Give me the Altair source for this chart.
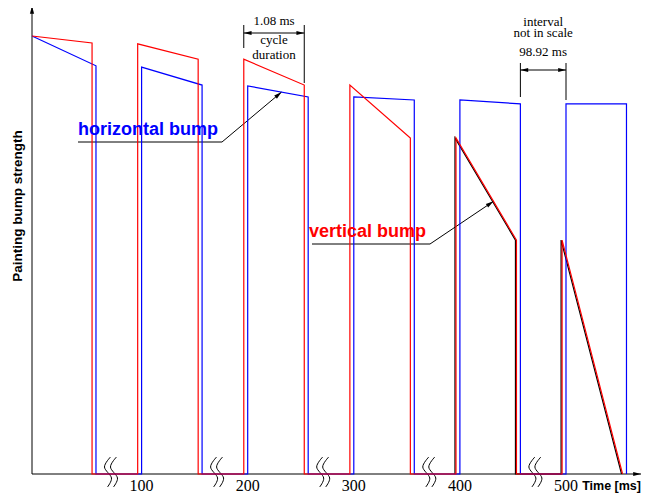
import math
import altair as alt
import pandas as pd

# ---------------- values ----------------
cycle_ms = [0, 100, 200, 300, 400, 500]          # start of each painting cycle
tick_ms = [100, 200, 300, 400, 500]
tick_labels = ["100", "200", "300", "400", "500"]
pulse_ms = 1.08                                    # cycle duration
gap_ms = 98.92                                     # interval not in scale
red_lead_ms = 0.07                                 # vertical bump slightly earlier

blue_start = [100, 92.9, 88.6, 86.1, 85.4, 84.5]   # horizontal bump strength
blue_end = [93.2, 88.8, 86.1, 85.4, 84.5, 84.5]
red_start = [100, 98.2, 94.7, 88.8, 76.7, 53.4]    # vertical bump strength
red_end = [98.4, 94.7, 88.8, 76.7, 53.4, 0.0]

# ---------------- broken time axis / layout ----------------
PX_MS = 56.0            # px per ms inside a cycle
PX_U = 4.38             # px per strength unit
CYC = 106.1 / PX_MS     # displayed length of one 100 ms cycle
W, H = 634, 486
X_MIN = -27.5 / PX_MS
X_MAX = X_MIN + W / PX_MS
Y_MAX = 466 / PX_U
Y_MIN = Y_MAX - H / PX_U
AXIS_X = -3.5 / PX_MS


def pos(ms):
    k = round(ms / 100)
    return k * CYC + (ms - 100 * k)


def px_x(px):
    return X_MIN + (px - 8) / PX_MS


def px_y(py):
    return Y_MAX - (py - 8) / PX_U


blue_on = [AXIS_X] + [pos(c) for c in cycle_ms[1:]]
blue_off = [pos(c + pulse_ms) for c in cycle_ms]
red_on = [AXIS_X] + [pos(c - red_lead_ms) for c in cycle_ms[1:]]
red_off = [pos(c + pulse_ms - red_lead_ms) for c in cycle_ms]


def pulse_path(ons, offs, starts, ends, first):
    pts = []
    for k in range(first, len(ons)):
        if k == 0:
            pts.append((ons[k], starts[k]))
        else:
            pts += [(ons[k], 0), (ons[k], starts[k])]
        pts += [(offs[k], ends[k]), (offs[k], 0)]
    return pd.DataFrame([{"x": a, "y": b, "i": i} for i, (a, b) in enumerate(pts)])


blue_df = pulse_path(blue_on, blue_off, blue_start, blue_end, 0)
red_df = pulse_path(red_on, red_off, red_start, red_end, 0)
black_df = pulse_path(red_on, red_off, red_start, red_end, 4)

xs = alt.Scale(domain=[X_MIN, X_MAX], nice=False, zero=False)
ys = alt.Scale(domain=[Y_MIN, Y_MAX], nice=False, zero=False)
X = lambda f="x": alt.X(f"{f}:Q", scale=xs, axis=None)
Y = lambda f="y": alt.Y(f"{f}:Q", scale=ys, axis=None)


def path_layer(df, color, width, xoff=0):
    return alt.Chart(df).mark_line(color=color, strokeWidth=width, xOffset=xoff).encode(
        x=X(), y=Y(), order=alt.Order("i:Q"))


# leader tips on the curves
f_h = 0.56
tip_h = (blue_on[2] + f_h * (blue_off[2] - blue_on[2]),
         blue_start[2] + f_h * (blue_end[2] - blue_start[2]))
f_v = 0.62
tip_v = (red_on[4] + f_v * (red_off[4] - red_on[4]),
         red_start[4] + f_v * (red_end[4] - red_start[4]))
elb_h = (px_x(222), px_y(142))
elb_v = (px_x(430), px_y(244))

x_axis_end = px_x(641)
y_axis_end = px_y(6)

rules = pd.DataFrame([
    # axes
    dict(x=AXIS_X, y=0, x2=AXIS_X, y2=y_axis_end),
    dict(x=AXIS_X, y=0, x2=x_axis_end, y2=0),
    # cycle duration dimension
    dict(x=red_on[2], y=px_y(25), x2=red_on[2], y2=px_y(48)),
    dict(x=red_off[2], y=px_y(25), x2=red_off[2], y2=px_y(83)),
    dict(x=red_on[2], y=px_y(33), x2=red_off[2], y2=px_y(33)),
    # interval dimension
    dict(x=blue_off[4], y=px_y(63), x2=blue_off[4], y2=px_y(97)),
    dict(x=blue_on[5], y=px_y(63), x2=blue_on[5], y2=px_y(100)),
    dict(x=blue_off[4], y=px_y(70), x2=blue_on[5], y2=px_y(70)),
    # leaders
    dict(x=px_x(78), y=elb_h[1], x2=elb_h[0], y2=elb_h[1]),
    dict(x=elb_h[0], y=elb_h[1], x2=tip_h[0], y2=tip_h[1]),
    dict(x=px_x(312), y=elb_v[1], x2=elb_v[0], y2=elb_v[1]),
    dict(x=elb_v[0], y=elb_v[1], x2=tip_v[0], y2=tip_v[1]),
])


def ang(frm, to):
    dx = (to[0] - frm[0]) * PX_MS
    dy = -(to[1] - frm[1]) * PX_U
    return math.degrees(math.atan2(dx, -dy)) % 360


heads = pd.DataFrame([
    dict(x=AXIS_X, y=y_axis_end, a=0),
    dict(x=x_axis_end, y=0, a=90),
    dict(x=red_on[2], y=px_y(33), a=270),
    dict(x=red_off[2], y=px_y(33), a=90),
    dict(x=blue_off[4], y=px_y(70), a=270),
    dict(x=blue_on[5], y=px_y(70), a=90),
    dict(x=tip_h[0], y=tip_h[1], a=ang(elb_h, tip_h)),
    dict(x=tip_v[0], y=tip_v[1], a=ang(elb_v, tip_v)),
])

# axis break squiggles
tmpl_a = [(1, -15), (-5, -5), (2, 6), (-2, 15)]
tmpl_b = [(7, -15), (1, -5), (8, 6), (4, 15)]
sq_rows = []
for n, t in enumerate(tick_ms):
    cx = pos(t) - 0.52
    for s, tmpl in enumerate([tmpl_a, tmpl_b]):
        for i, (dx, dy) in enumerate(tmpl):
            sq_rows.append(dict(x=cx + (dx - 3) / PX_MS, y=-(dy - 2) / PX_U,
                                g=f"{n}-{s}", i=i))
sq_df = pd.DataFrame(sq_rows)

ticks_df = pd.DataFrame({"x": [pos(t) for t in tick_ms], "y": px_y(491), "t": tick_labels})

serif_df = pd.DataFrame([
    dict(x=(red_on[2] + red_off[2]) / 2, y=px_y(25), t=f"{pulse_ms:.2f} ms"),
    dict(x=(red_on[2] + red_off[2]) / 2, y=px_y(44), t="cycle"),
    dict(x=(red_on[2] + red_off[2]) / 2, y=px_y(59), t="duration"),
    dict(x=(blue_off[4] + blue_on[5]) / 2, y=px_y(25.5), t="interval"),
    dict(x=(blue_off[4] + blue_on[5]) / 2, y=px_y(36.5), t="not in scale"),
    dict(x=(blue_off[4] + blue_on[5]) / 2, y=px_y(55.5), t=f"{gap_ms:.2f} ms"),
])

labels_df = pd.DataFrame([
    dict(x=px_x(78), y=px_y(135), t="horizontal bump", c="blue"),
    dict(x=px_x(309), y=px_y(237), t="vertical bump", c="red"),
])

SERIF = "Liberation Serif"
SANS = "Liberation Sans"

layers = [
    alt.Chart(rules).mark_rule(color="black", strokeWidth=1).encode(
        x=X(), y=Y(), x2="x2:Q", y2="y2:Q"),
    alt.Chart(sq_df).mark_line(color="black", strokeWidth=1, interpolate="cardinal").encode(
        x=X(), y=Y(), detail="g:N", order=alt.Order("i:Q")),
    path_layer(black_df, "#000000", 1.2, -1),
    path_layer(blue_df, "#0000ff", 1.2),
    path_layer(red_df, "#ff0000", 1.2),
    alt.Chart(heads).mark_point(shape="M0,0L0.7,2.6L-0.7,2.6Z", filled=True, size=36,
                                color="black", opacity=1).encode(
        x=X(), y=Y(), angle=alt.Angle("a:Q", scale=None)),
    alt.Chart(ticks_df).mark_text(font=SERIF, fontSize=16, align="center",
                                  baseline="alphabetic", color="black").encode(
        x=X(), y=Y(), text="t:N"),
    alt.Chart(serif_df).mark_text(font=SERIF, fontSize=13, align="center",
                                  baseline="alphabetic", color="black").encode(
        x=X(), y=Y(), text="t:N"),
    alt.Chart(labels_df).mark_text(font=SANS, fontSize=18, fontWeight="bold", align="left",
                                   baseline="alphabetic").encode(
        x=X(), y=Y(), text="t:N",
        color=alt.Color("c:N", scale=None)),
    alt.Chart(pd.DataFrame([dict(x=px_x(641), y=px_y(490), t="Time [ms]")])).mark_text(
        font=SANS, fontSize=12.5, fontWeight="bold", align="right", baseline="alphabetic",
        color="black").encode(x=X(), y=Y(), text="t:N"),
    alt.Chart(pd.DataFrame([dict(x=px_x(18), y=px_y(206), t="Painting bump strength")])).mark_text(
        font=SANS, fontSize=13.5, fontWeight="bold", align="center", baseline="middle",
        angle=270, color="black").encode(x=X(), y=Y(), text="t:N"),
]

chart = alt.layer(*layers).properties(
    width=W, height=H, padding=0,
    autosize=alt.AutoSizeParams(type="none"),
    background="white",
).configure_view(strokeWidth=0)

chart.save("out.html", embed_options={"renderer": "svg", "actions": False})
